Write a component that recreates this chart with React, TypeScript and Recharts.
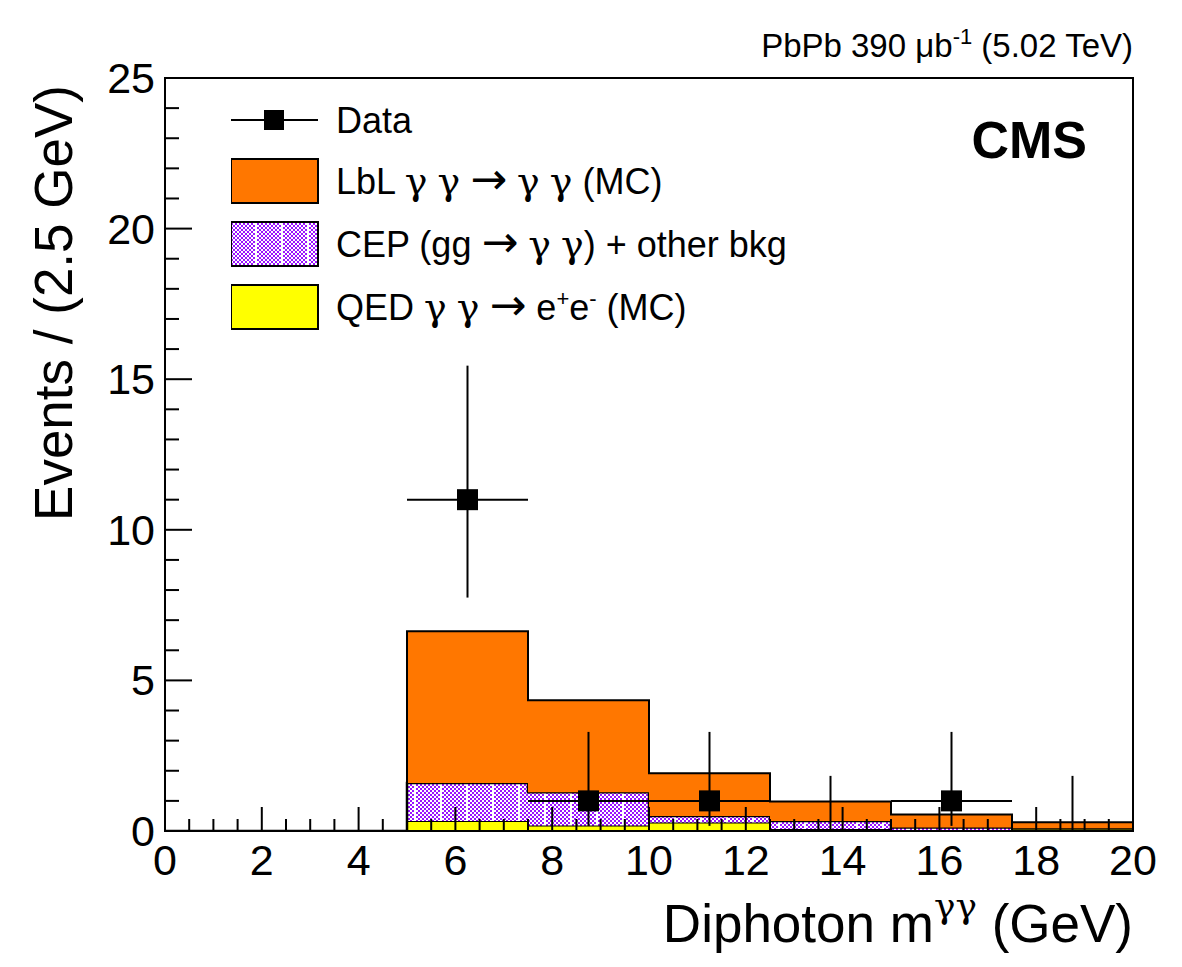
import React from "react"
import { Area, ComposedChart, ErrorBar, Legend, ReferenceArea, Scatter, XAxis, YAxis } from "recharts"

// histogram binning in diphoton mass (GeV)
const BIN_EDGES = [0, 2.5, 5, 7.5, 10, 12.5, 15, 17.5, 20]

// stacked MC expectations, one value per bin
const QED = [0, 0, 0.33, 0.18, 0.28, 0.07, 0.02, 0.08]
const CEP = [0, 0, 1.26, 1.11, 0.22, 0.26, 0.1, 0.01]
const LBL = [0, 0, 5.04, 3.05, 1.42, 0.65, 0.43, 0.2]

// observed events at bin centres, with asymmetric Poisson errors
const DATA_X = [6.25, 8.75, 11.25, 13.75, 16.25, 18.75]
const DATA_Y = [11, 1, 1, 0, 1, 0]
const ERR_LOW = [3.25, 0.83, 0.83, 0, 0.83, 0]
const ERR_HIGH = [4.45, 2.29, 2.29, 1.83, 2.29, 1.83]
const HALF_BIN = 1.25

const X_TICKS = Array.from({ length: 41 }, (_, i) => i * 0.5)
const Y_TICKS = Array.from({ length: 26 }, (_, i) => i)

const FONT = "'Liberation Sans', Arial, Helvetica, sans-serif"
const SYM = "'DejaVu Serif', 'Liberation Serif', serif"
const ARROW = "'DejaVu Sans', sans-serif"
const ORANGE = "#ff7700"
const YELLOW = "#ffff00"
const PURPLE = "#9a12ff"

// step rows: each edge carries the content of the bin that starts there
const histRows = BIN_EDGES.map((x, i) => {
  const b = Math.min(i, QED.length - 1)
  return { x, qed: QED[b], cep: CEP[b], lbl: LBL[b] }
})

const points = DATA_X.map((x, i) => ({
  x,
  y: DATA_Y[i],
  ex: HALF_BIN,
  ey: [ERR_LOW[i], ERR_HIGH[i]],
}))

const XTick = (props: any) => {
  const { x, y, payload } = props
  const v = payload.value
  const major = Math.abs(v % 2) < 1e-6
  return (
    <g>
      <line x1={x} x2={x} y1={y} y2={y - (major ? 24 : 12)} stroke="#000" strokeWidth={2} />
      {major && (
        <text x={x} y={y + 44} textAnchor="middle" fontSize={43} fontFamily={FONT} fill="#000">
          {v}
        </text>
      )}
    </g>
  )
}

const YTick = (props: any) => {
  const { x, y, payload } = props
  const v = payload.value
  const major = v % 5 === 0
  return (
    <g>
      <line x1={x} x2={x + (major ? 27 : 14)} y1={y} y2={y} stroke="#000" strokeWidth={2} />
      {major && (
        <text x={x - 10} y={y + 15} textAnchor="end" fontSize={43} fontFamily={FONT} fill="#000">
          {v}
        </text>
      )}
    </g>
  )
}

const DataMarker = (props: any) => {
  const { cx, cy, payload } = props
  if (!payload || payload.y <= 0) return <g />
  return <rect x={cx - 10.5} y={cy - 10.5} width={21} height={21} fill="#000" />
}

const G = () => <tspan fontFamily={SYM} fontSize={38}>γ</tspan>
const Arr = () => <tspan fontFamily={ARROW} fontSize={44}>→</tspan>

const LegendBox = () => (
  <svg width={620} height={250} style={{ display: "block" }}>
    <g fontFamily={FONT} fontSize={36} fill="#000">
      <line x1={0} x2={87} y1={25} y2={25} stroke="#000" strokeWidth={2} />
      <rect x={33} y={15} width={20} height={20} fill="#000" />
      <text x={105} y={38}>Data</text>

      <rect x={0} y={64} width={87} height={44} fill={ORANGE} stroke="#000" strokeWidth={2} />
      <text x={105} y={99}>
        LbL <G /> <G /> <Arr /> <G /> <G /> (MC)
      </text>

      <rect x={0} y={127} width={87} height={44} fill="url(#cepHatch)" stroke="#000" strokeWidth={2} />
      <text x={105} y={162}>
        CEP (gg <Arr /> <G /> <G />) + other bkg
      </text>

      <rect x={0} y={190} width={87} height={44} fill={YELLOW} stroke="#000" strokeWidth={2} />
      <text x={105} y={225}>
        QED <G /> <G /> <Arr /> e<tspan dy={-14} fontSize={22}>+</tspan>
        <tspan dy={14}>e</tspan>
        <tspan dy={-14} fontSize={22}>-</tspan>
        <tspan dy={14}> (MC)</tspan>
      </text>
    </g>
  </svg>
)

export default function App() {
  return (
    <div style={{ position: "absolute", left: 0, top: 0 }}>
      <ComposedChart
        width={1182}
        height={967}
        data={histRows}
        margin={{ top: 78, right: 49, left: 0, bottom: 0 }}
        style={{ background: "#fff" }}
      >
        <defs>
          <pattern id="cepHatch" width={26} height={4} patternUnits="userSpaceOnUse">
            <rect x={0} y={0} width={26} height={4} fill="#fff" />
            {Array.from({ length: 6 }, (_, k) => (
              <g key={k}>
                <rect x={k * 4} y={0} width={2} height={2} fill={PURPLE} />
                <rect x={k * 4 + 2} y={2} width={2} height={2} fill={PURPLE} />
              </g>
            ))}
          </pattern>
        </defs>

        <XAxis
          type="number"
          dataKey="x"
          domain={[0, 20]}
          ticks={X_TICKS}
          interval={0}
          height={136}
          tickSize={0}
          tickMargin={0}
          tickLine={false}
          tick={<XTick />}
          axisLine={{ stroke: "#000", strokeWidth: 2 }}
          allowDataOverflow
        />
        <YAxis
          type="number"
          domain={[0, 25]}
          ticks={Y_TICKS}
          interval={0}
          width={165}
          tickSize={0}
          tickMargin={0}
          tickLine={false}
          tick={<YTick />}
          axisLine={{ stroke: "#000", strokeWidth: 2 }}
          allowDataOverflow
        />

        <Area
          type="stepAfter"
          dataKey="qed"
          stackId="mc"
          fill={YELLOW}
          fillOpacity={1}
          stroke="#000"
          strokeWidth={2}
          isAnimationActive={false}
        />
        <Area
          type="stepAfter"
          dataKey="cep"
          stackId="mc"
          fill="url(#cepHatch)"
          fillOpacity={1}
          stroke="#000"
          strokeWidth={2.5}
          isAnimationActive={false}
        />
        <Area
          type="stepAfter"
          dataKey="lbl"
          stackId="mc"
          fill={ORANGE}
          fillOpacity={1}
          stroke="#000"
          strokeWidth={2}
          isAnimationActive={false}
        />

        <Scatter data={points} dataKey="y" shape={<DataMarker />} isAnimationActive={false}>
          <ErrorBar dataKey="ey" direction="y" width={0} stroke="#000" strokeWidth={2} />
          <ErrorBar dataKey="ex" direction="x" width={0} stroke="#000" strokeWidth={2} />
        </Scatter>

        <ReferenceArea x1={0} x2={20} y1={0} y2={25} fill="none" stroke="#000" strokeWidth={2} ifOverflow="visible" />

        <Legend
          content={<LegendBox />}
          verticalAlign="middle"
          align="center"
          wrapperStyle={{ left: 231, top: 95, width: 620, height: 250 }}
        />

        <text x={1133} y={57} textAnchor="end" fontSize={33} fontFamily={FONT} fill="#000">
          PbPb 390 μb<tspan dy={-13} fontSize={22}>-1</tspan>
          <tspan dy={13}> (5.02 TeV)</tspan>
        </text>
        <text x={1087} y={158} textAnchor="end" fontSize={52} fontWeight="bold" fontFamily={FONT} fill="#000">
          CMS
        </text>
        <text x={1133} y={942} textAnchor="end" fontSize={53} fontFamily={FONT} fill="#000">
          Diphoton m<tspan dy={-24} fontSize={36} fontFamily={SYM}>γγ</tspan>
          <tspan dy={24}> (GeV)</tspan>
        </text>
        <text
          x={72}
          y={85}
          transform="rotate(-90 72 85)"
          textAnchor="end"
          fontSize={53}
          fontFamily={FONT}
          fill="#000"
        >
          Events / (2.5 GeV)
        </text>
      </ComposedChart>
    </div>
  )
}
